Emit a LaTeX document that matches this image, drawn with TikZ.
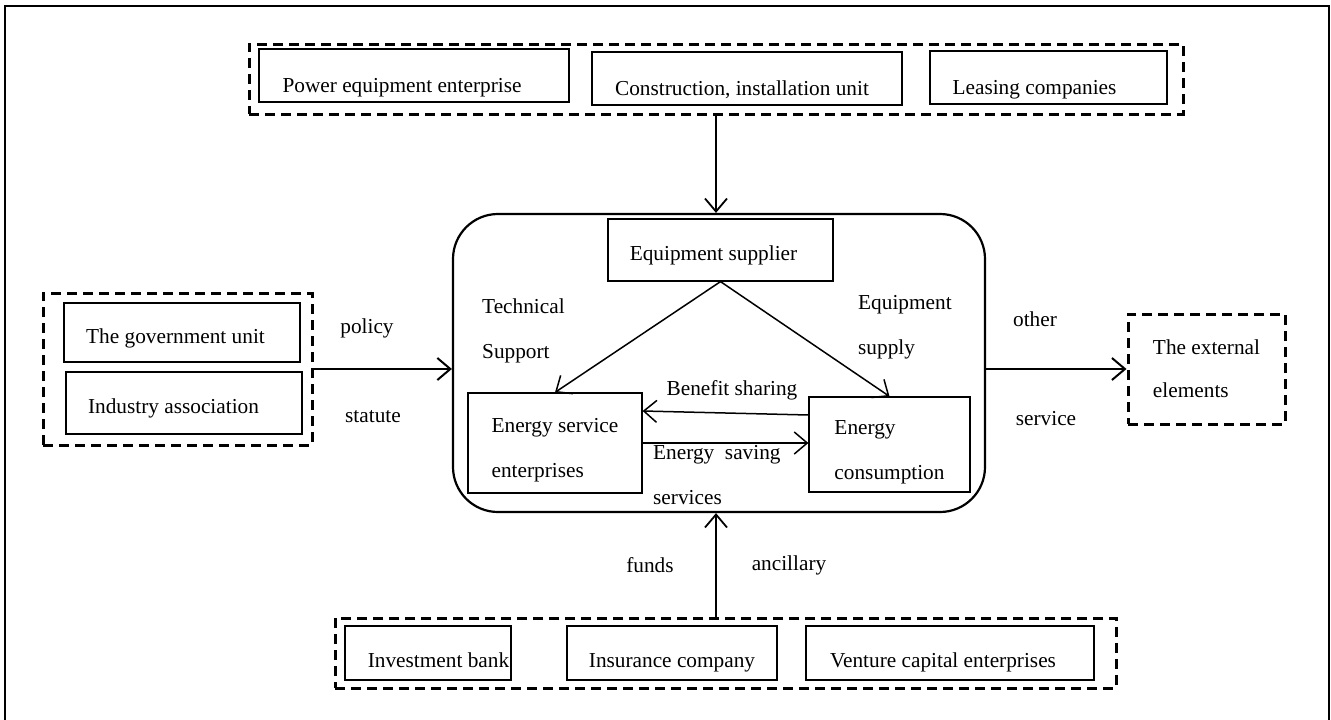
\documentclass[tikz,border=0pt]{standalone}
\usepackage{fontspec}
\setmainfont{Liberation Serif}
\usetikzlibrary{arrows.meta}
\tikzset{
  box/.style={draw,line width=1.2pt,inner sep=0pt,text height=#1,text depth=0pt},
  box/.default=21pt,
  box2/.style={draw,line width=1.2pt,inner sep=0pt,align=left,text height=#1,text depth=0pt,
    font=\fontsize{21.3}{45}\selectfont},
  grp/.style={draw,line width=3pt,dash pattern=on 10pt off 6pt,inner sep=0pt},
  lbl/.style={align=left,inner sep=0pt,font=\fontsize{21.3}{45}\selectfont}
}

\begin{document}
\begin{tikzpicture}[x=1pt,y=-1pt,font=\fontsize{21.3}{25}\selectfont,
  >={Straight Barb[length=13pt,width=22pt]}]
\useasboundingbox (0,0) rectangle (1331,720);
\draw[line width=2pt] (5,6) rectangle (1329,740);

% top group
\node[grp,minimum width=934,minimum height=70] (makers) at (716,79) {};
\node[box=33pt,minimum width=310,minimum height=53] (power) at (414,75.5) {Power equipment enterprise\hspace*{24pt}};
\node[box=33pt,minimum width=310,minimum height=53] (build) at (747,78.5) {Construction, installation unit\hspace*{10pt}};
\node[box=33pt,minimum width=237,minimum height=53] (lease) at (1048.5,77.5) {Leasing companies\hspace*{28pt}};

% core
\node[draw,line width=2.2pt,rounded corners=45pt,minimum width=532,minimum height=298] (core) at (719,363) {};
\node[box,minimum width=225,minimum height=62] (sup) at (720.5,250) {Equipment supplier\hspace*{14pt}};
\node[box2=68pt,minimum width=174,minimum height=100] (ese) at (555,443) {Energy service\\enterprises};
\node[box2=69pt,minimum width=161,minimum height=95] (econ) at (889.5,444.5) {Energy\\consumption};

% left group
\node[grp,minimum width=269,minimum height=152] (govt) at (177.5,369) {};
\node[box,minimum width=236,minimum height=59] (gov) at (182,332.5) {The government unit\hspace*{13pt}};
\node[box,minimum width=236,minimum height=62] (ind) at (184,403) {Industry association\hspace*{21pt}};

% right
\node[grp,align=left,font=\fontsize{21.3}{43}\selectfont,minimum width=157,minimum height=110] (ext) at (1206.5,369) {The external\\elements};

% bottom group
\node[grp,minimum width=781,minimum height=70] (finance) at (725.5,653) {};
\node[box=28pt,minimum width=166,minimum height=54] (bank) at (428,653) {\hspace*{21pt}Investment bank};
\node[box=28pt,minimum width=210,minimum height=54] (insure) at (672,653) {Insurance company};
\node[box=28pt,minimum width=288,minimum height=54] (venture) at (950,653) {Venture capital enterprises\hspace*{14pt}};

% labels
\node[lbl,anchor=west] (tech) at (482,331) {Technical\\Support};
\node[lbl,anchor=west] (supply) at (858,327) {Equipment\\supply};
\node (benefit) at (732,390) {Benefit sharing};
\node[lbl,anchor=west] (saving) at (653,475.5) {Energy\ \ saving\\services};
\node (policy) at (367,328) {policy};
\node (statute) at (373,417) {statute};
\node (other) at (1035,319) {other};
\node (service) at (1046,419) {service};
\node (funds) at (650,565) {funds};
\node (ancillary) at (789,565) {ancillary};

% arrows
\draw[->,line width=1.8pt] (makers.south) -- (makers.south |- core.north);
\draw[->,line width=2pt] (govt.east) -- (govt.east -| core.west);
\draw[->,line width=2pt] (core.east |- ext.west) -- (ext.west);
\draw[->,line width=1.8pt] (makers.south |- finance.north) -- (makers.south |- core.south);
\draw[->,line width=1.5pt] (sup.south) -- (ese.north);
\draw[->,line width=1.5pt] (sup.south) -- (econ.north);
\draw[->,line width=1.5pt] ([yshift=29.5pt]econ.west) -- ([yshift=32pt]ese.east);
\draw[->,line width=1.5pt] (ese.east) -- (ese.east -| econ.west);
\end{tikzpicture}
\end{document}
